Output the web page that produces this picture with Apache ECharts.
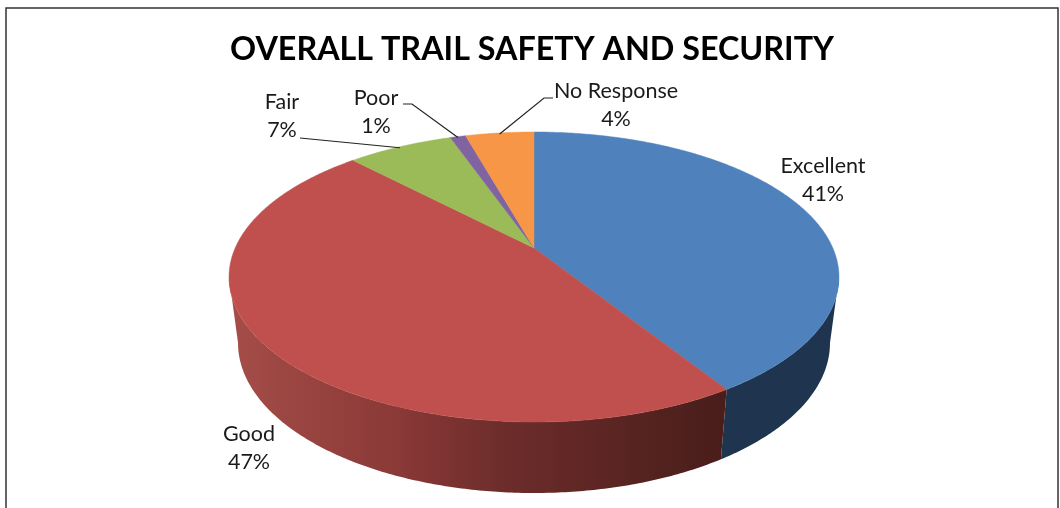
<!DOCTYPE html>
<html>
<head>
<meta charset="utf-8">
<style>
	html, body { margin: 0; padding: 0; background: #fff; }
	#container { width: 1060px; height: 508px; }
</style>
<script src="https://cdn.jsdelivr.net/npm/echarts@6/dist/echarts.min.js"></script>
</head>
<body>
<div id="container"></div>
<script>
const categories = ['Excellent', 'Good', 'Fair', 'Poor', 'No Response'];
const shares = [41, 46.8, 6.8, 1, 4.4];
const faceColors = ['#4f81bd', '#c0504d', '#9bbb59', '#8064a2', '#f79646'];
const chartTitle = 'OVERALL TRAIL SAFETY AND SECURITY';

// the tilted disc, top face and bottom face
const topFace = { cx: 534, cy: 248, a: 298.8, b: 139.2, k: -0.2 };
const bottomFace = { cx: 534, cy: 313, a: 290, b: 144, k: -0.2 };

// circle angle (0 = up, clockwise) to the screen
function project(face, angle) {
	var u = Math.sin(angle), v = -Math.cos(angle);
	var d = 1 + face.k * v;
	return [face.cx + face.a * u / d, face.cy + face.b * v / d];
}

function arcPoints(face, from, to) {
	var points = [], steps = Math.max(2, Math.ceil((to - from) / 0.01));
	for (var i = 0; i <= steps; i++) {
		points.push(project(face, from + (to - from) * i / steps));
	}
	return points;
}

var total = shares.reduce((sum, item) => sum + item, 0);
var running = 0;
var slices = shares.map((item) => {
	var from = running / total * Math.PI * 2;
	running += item;
	return [from, running / total * Math.PI * 2];
});

// only the front of the wall shows, between the two outline tangents
var wallFrom = Math.acos(topFace.k);
var wallTo = Math.PI * 2 - wallFrom;

function sideColor(index) {
	if (index === 1) {
		return new echarts.graphic.LinearGradient(0, 0, 1, 0, [
			{ offset: 0, color: '#a54d49' },
			{ offset: 0.34, color: '#8a3937' },
			{ offset: 0.54, color: '#6e2d2b' },
			{ offset: 0.95, color: '#4c1f1c' },
			{ offset: 1, color: '#4a1d1b' }
		]);
	}
	return '#1f344f';
}

function renderSide(params, api) {
	var from = Math.max(api.value(0), wallFrom), to = Math.min(api.value(1), wallTo);
	if (from >= to) {
		return null;
	}
	var points = arcPoints(topFace, from, to).concat(arcPoints(bottomFace, from, to).reverse());
	return { type: 'polygon', shape: { points }, style: { fill: sideColor(params.dataIndex) } };
}

function renderTop(params, api) {
	var from = api.value(0), to = api.value(1);
	var points = [[topFace.cx, topFace.cy]].concat(arcPoints(topFace, from, to));
	var color = faceColors[params.dataIndex];
	return { type: 'polygon', shape: { points }, style: { fill: color, stroke: color, lineWidth: 0.5 } };
}

// label centres and the bend of each leader line
var labelLayout = [
	{ x: 823, y: 180 },
	{ x: 249, y: 448 },
	{ x: 282, y: 116, leader: [[300, 138]], inset: 1 },
	{ x: 376, y: 112, leader: [[403, 104], [412, 104]], inset: 1 },
	{ x: 616, y: 105, leader: [[553, 98], [544, 98]], inset: 1 }
];

function renderLabel(params, api) {
	var i = params.dataIndex;
	var layout = labelLayout[i];
	var children = [{
		type: 'text',
		x: layout.x,
		y: layout.y,
		style: {
			text: categories[i] + '\n' + Math.round(shares[i] / total * 100) + '%',
			fill: '#1a1a1a',
			font: '21.5px Lato',
			lineHeight: 28,
			align: 'center',
			verticalAlign: 'middle'
		}
	}];
	if (layout.leader) {
		var mid = (api.value(0) + api.value(1)) / 2;
		var edge = project(topFace, mid);
		var end = [edge[0], edge[1] + layout.inset];
		children.push({
			type: 'polyline',
			shape: { points: layout.leader.concat([end]) },
			style: { stroke: '#222', lineWidth: 1.2, fill: null }
		});
	}
	return { type: 'group', children };
}

var myChart = echarts.init(document.getElementById('container'));
myChart.setOption({
	animation: false,
	backgroundColor: '#fff',
	title: {
		text: chartTitle,
		left: 527,
		top: 29,
		textAlign: 'center',
		textStyle: { fontFamily: 'Lato', fontSize: 32.3, fontWeight: 'bold', color: '#000' }
	},
	graphic: [{
		type: 'rect',
		shape: { x: 6, y: 8, width: 1052, height: 520 },
		style: { fill: 'none', stroke: '#333', lineWidth: 1.5 },
		silent: true
	}],
	series: [
		{ type: 'custom', coordinateSystem: 'none', silent: true, z: 1, data: slices, renderItem: renderSide },
		{ type: 'custom', coordinateSystem: 'none', silent: true, z: 2, data: slices, renderItem: renderTop },
		{ type: 'custom', coordinateSystem: 'none', silent: true, z: 3, data: slices, renderItem: renderLabel }
	]
});
</script>
</body>
</html>
